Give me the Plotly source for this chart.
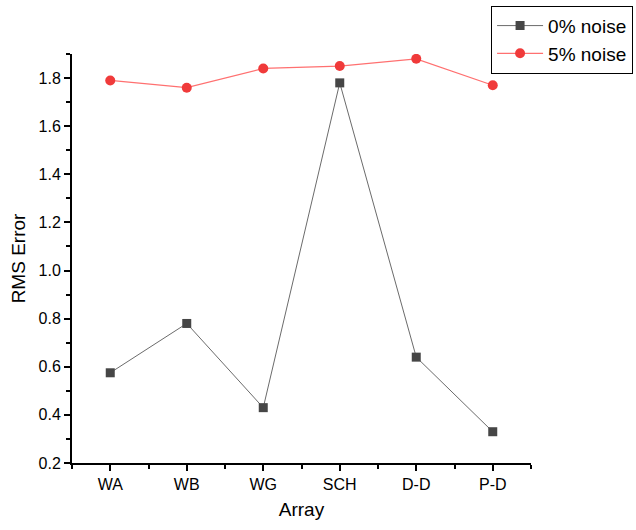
import plotly.graph_objects as go

categories = ["WA", "WB", "WG", "SCH", "D-D", "P-D"]
noise0 = [0.575, 0.78, 0.43, 1.78, 0.64, 0.33]
noise5 = [1.79, 1.76, 1.84, 1.85, 1.88, 1.77]
xpos = list(range(len(categories)))

fig = go.Figure()
fig.add_trace(go.Scatter(x=xpos, y=noise0, mode="lines+markers", name="0% noise",
                         line=dict(color="#6b6b6b", width=1),
                         marker=dict(symbol="square", size=9, color="#464646")))
fig.add_trace(go.Scatter(x=xpos, y=noise5, mode="lines+markers", name="5% noise",
                         line=dict(color="#ff7070", width=1.2),
                         marker=dict(symbol="circle", size=10, color="#f03a3a")))

fig.update_layout(
    width=636, height=530,
    margin=dict(l=72, r=105, t=54, b=67, autoexpand=False),
    plot_bgcolor="white", paper_bgcolor="white",
    font=dict(family="Liberation Sans, Arial", color="black", size=16),
    legend=dict(x=0.913, y=1.118, xanchor="left", yanchor="top",
                bordercolor="black", borderwidth=1, font=dict(size=19),
                bgcolor="white", tracegroupgap=0, itemwidth=46),
)
fig.update_xaxes(range=[-0.5, 5.5], tickmode="array", tickvals=xpos, ticktext=categories,
                 showline=True, linecolor="black", linewidth=2, ticks="outside",
                 ticklen=6, tickwidth=1.5, tickcolor="black", showgrid=False, zeroline=False,
                 minor=dict(tickvals=[i + 0.5 for i in range(-1, 6)], ticks="outside",
                            ticklen=4, tickwidth=1.5, tickcolor="black"),
                 title=dict(text="Array", font=dict(size=19), standoff=10))
fig.update_yaxes(range=[0.2, 1.9], dtick=0.2, tick0=0.2, tickformat=".1f",
                 showline=True, linecolor="black", linewidth=2, ticks="outside",
                 ticklen=6, tickwidth=1.5, tickcolor="black", showgrid=False, zeroline=False,
                 minor=dict(dtick=0.1, ticks="outside", ticklen=4, tickwidth=1.5, tickcolor="black"),
                 title=dict(text="RMS Error", font=dict(size=19), standoff=8))

fig.write_html("out.html")
